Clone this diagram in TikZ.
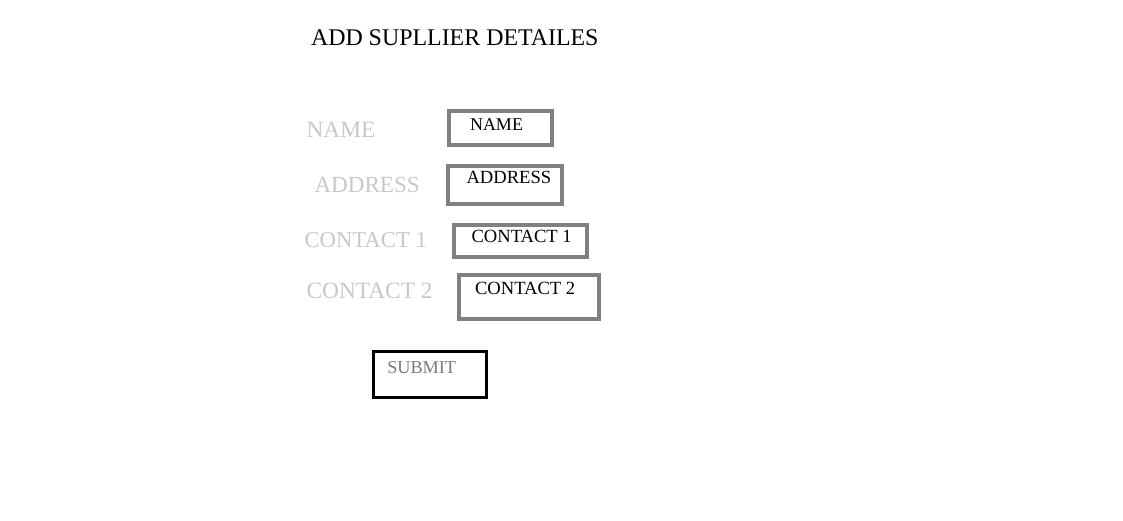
\documentclass[tikz,border=0pt]{standalone}
\usepackage{fontspec}
\setmainfont{Liberation Serif}
\definecolor{boxgray}{HTML}{808080}
\definecolor{lblgray}{HTML}{C8C8C8}
\definecolor{subgray}{HTML}{7A7A80}
\tikzset{
  txt/.style={anchor=base west, inner sep=0pt, outer sep=0pt},
  lbl/.style={txt, text=lblgray, font=\fontsize{23.4}{27}\selectfont},
  fieldtxt/.style={txt, text=black, font=\fontsize{18.6}{22}\selectfont},
  fieldbox/.style={draw=boxgray, line width=4pt, inner sep=0pt, rectangle},
  submitbox/.style={draw=black, line width=3pt, inner sep=0pt, rectangle},
}
\begin{document}
\begin{tikzpicture}[x=1pt,y=-1pt]
\useasboundingbox (0,0) rectangle (1123,521);
\node[txt, font=\fontsize{23.9}{28}\selectfont] (title) at (311,46) {ADD SUPLLIER DETAILES};

\node[lbl] (lname) at (306.5,137.7) {NAME};
\node[lbl, font=\fontsize{23.1}{27}\selectfont] (laddr) at (314.5,193) {ADDRESS};
\node[lbl, font=\fontsize{22.7}{27}\selectfont] (lc1) at (304.5,247.7) {CONTACT 1};
\node[lbl] (lc2) at (306.5,298.3) {CONTACT 2};

\node[fieldbox, minimum width=103, minimum height=34] (bname) at (500.5,128) {};
\node[fieldbox, minimum width=114, minimum height=38] (baddr) at (505,185) {};
\node[fieldbox, minimum width=133, minimum height=31.5] (bc1) at (520.5,241.25) {};
\node[fieldbox, minimum width=140, minimum height=44.5] (bc2) at (529,296.75) {};

\node[fieldtxt, font=\fontsize{18}{22}\selectfont] (tname) at (470,130.7) {NAME};
\node[fieldtxt] (taddr) at (466.5,183.3) {ADDRESS};
\node[fieldtxt] (tc1) at (471.5,242.3) {CONTACT 1};
\node[fieldtxt] (tc2) at (475,294) {CONTACT 2};

\node[submitbox, minimum width=113.5, minimum height=46.5] (bsub) at (429.75,374.25) {};
\node[txt, text=subgray, font=\fontsize{18.2}{22}\selectfont] (tsub) at (387.3,373.3) {SUBMIT};
\end{tikzpicture}
\end{document}
